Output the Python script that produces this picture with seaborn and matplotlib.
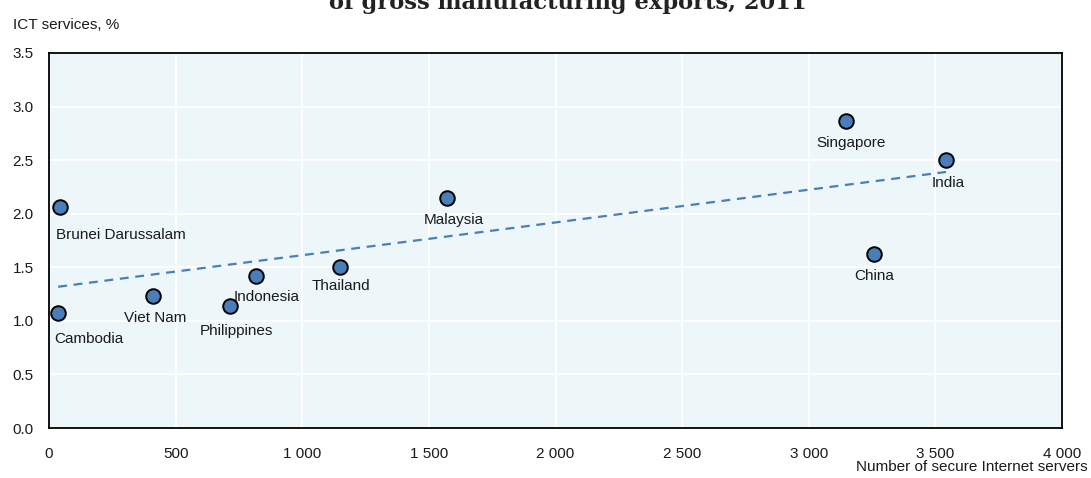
import matplotlib
matplotlib.use("Agg")
import matplotlib.pyplot as plt
import seaborn as sns
import pandas as pd
from matplotlib import font_manager as fm

countries = ["Brunei Darussalam", "Cambodia", "Viet Nam", "Philippines", "Indonesia",
             "Thailand", "Malaysia", "Singapore", "India", "China"]
servers = [43, 36, 410, 714, 817, 1149, 1570, 3146, 3542, 3257]
ict_share = [2.06, 1.07, 1.23, 1.14, 1.42, 1.50, 2.15, 2.87, 2.50, 1.62]
x_ticks = [0, 500, 1000, 1500, 2000, 2500, 3000, 3500, 4000]
x_tick_labels = ["0", "500", "1 000", "1 500", "2 000", "2 500", "3 000", "3 500", "4 000"]
y_ticks = [0.0, 0.5, 1.0, 1.5, 2.0, 2.5, 3.0, 3.5]

# label offsets in pixels (dx, dy down) and alignment
label_pos = {
    "Brunei Darussalam": (-4, 28, "left"),
    "Cambodia": (-4, 26, "left"),
    "Viet Nam": (2, 22, "center"),
    "Philippines": (7, 25, "center"),
    "Indonesia": (11, 21, "center"),
    "Thailand": (1, 19, "center"),
    "Malaysia": (7, 22, "center"),
    "Singapore": (5, 22, "center"),
    "India": (2, 23, "center"),
    "China": (0, 22, "center"),
}

df = pd.DataFrame({"country": countries, "servers": servers, "ict": ict_share})

names = {f.name for f in fm.fontManager.ttflist}
narrow = "Liberation Sans Narrow" if "Liberation Sans Narrow" in names else "Liberation Sans"

sns.set_theme(style="white")
plt.rcParams["font.family"] = [narrow, "DejaVu Sans"]

W, H = 1091, 478
fig = plt.figure(figsize=(W / 100, H / 100), dpi=100)
ax = fig.add_axes([49 / W, 1 - 428 / H, (1062 - 49) / W, (428 - 53) / H])

blue = "#4A7EBB"
ax.set_facecolor("#EDF7F9")
sns.regplot(data=df, x="servers", y="ict", ax=ax, ci=None, scatter=False,
            line_kws=dict(color=blue, lw=1.6, ls=(0, (4, 3))))
sns.scatterplot(data=df, x="servers", y="ict", ax=ax, s=110, color=blue,
                edgecolor="black", linewidth=1.4, zorder=5, legend=False)

for c, x, y in zip(countries, servers, ict_share):
    dx, dy, ha = label_pos[c]
    ax.annotate(c, (x, y), xytext=(dx * 0.72, -dy * 0.72), textcoords="offset points",
                ha=ha, va="center", fontsize=11, color="#1a1a1a", zorder=6)

ax.set_xlim(0, 4000)
ax.set_ylim(0, 3.5)
ax.set_xticks(x_ticks)
ax.set_xticklabels(x_tick_labels)
ax.set_yticks(y_ticks)
ax.set_yticklabels([f"{v:.1f}" for v in y_ticks])
ax.grid(True, color="white", lw=1.4)
ax.set_axisbelow(True)
for s in ax.spines.values():
    s.set_visible(True)
    s.set_color("black")
    s.set_linewidth(1.3)
ax.tick_params(axis="both", direction="in", length=4, width=1, color="black",
               labelsize=11, labelcolor="#1a1a1a")
ax.tick_params(axis="x", pad=14)
ax.tick_params(axis="y", pad=11)
ax.set_xlabel("")
ax.set_ylabel("")

fig.text(13 / W, 1 - 25 / H, "ICT services, %", ha="left", va="center", fontsize=11, color="#1a1a1a")
fig.text(1088 / W, 1 - 467 / H, "Number of secure Internet servers", ha="right", va="center",
         fontsize=11, color="#1a1a1a")
fig.text(568 / W, 1 - 9.5 / H, "of gross manufacturing exports, 2011", ha="center", va="baseline",
         fontsize=16.3, fontweight="bold", family=["DejaVu Serif"], color="#222222")

fig.savefig("out.png", dpi=100)
